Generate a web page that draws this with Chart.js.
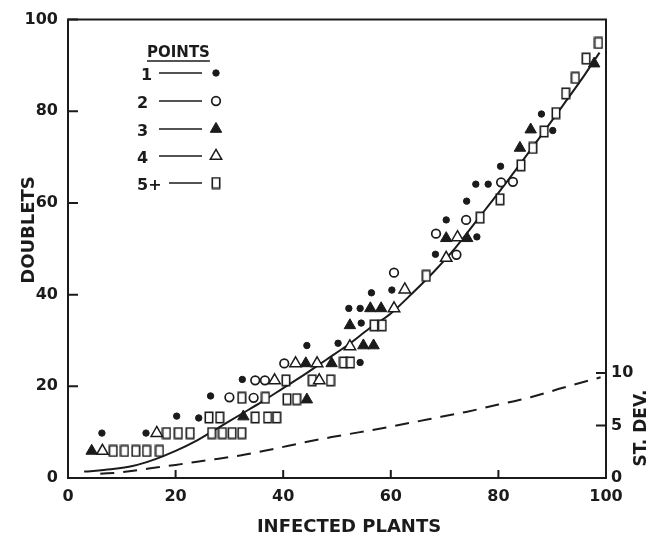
<!DOCTYPE html>
<html>
<head>
<meta charset="utf-8">
<script src="https://cdn.jsdelivr.net/npm/chart.js@4/dist/chart.umd.min.js"></script>
<style>
  html, body { margin: 0; padding: 0; background: #fff; }
</style>
</head>
<body>
<canvas id="graphCanvas" width="665" height="543"></canvas>
<script>
// points (x = infected plants, y = doublets)
var pts1X = [6.3, 14.5, 20.2, 24.3, 26.5, 32.4, 44.4, 50.2, 52.2, 54.3, 54.5, 54.3, 56.4, 60.2, 68.3, 70.3, 74.1, 76.0, 75.8, 78.1, 80.4, 88.0, 90.1];
var pts1Y = [9.8, 9.8, 13.5, 13.1, 17.9, 21.5, 28.9, 29.4, 37.0, 37.0, 33.8, 25.2, 40.4, 41.0, 48.8, 56.3, 60.4, 52.6, 64.1, 64.1, 68.0, 79.4, 75.8];

var pts2X = [30.0, 34.5, 34.8, 36.6, 40.2, 60.6, 72.2, 68.4, 74.0, 80.5, 82.7];
var pts2Y = [17.6, 17.5, 21.3, 21.3, 25.0, 44.8, 48.7, 53.3, 56.3, 64.5, 64.6];

var pts3X = [4.4, 32.6, 44.4, 44.2, 49.0, 52.4, 54.9, 56.8, 56.2, 58.2, 70.3, 74.2, 84.0, 86.0, 97.8];
var pts3Y = [5.9, 13.4, 17.1, 25.0, 25.0, 33.3, 28.9, 28.9, 37.0, 37.0, 52.3, 52.3, 72.0, 76.0, 90.4];

var pts4X = [6.4, 16.5, 38.4, 46.7, 42.3, 46.3, 52.4, 60.6, 62.6, 70.3, 72.4];
var pts4Y = [5.9, 9.8, 21.3, 21.3, 25.0, 25.0, 28.7, 37.0, 41.1, 48.0, 52.5];

var pts5X = [8.4, 10.5, 12.6, 14.6, 17.0, 18.3, 20.5, 22.7, 26.7, 28.7, 30.5, 32.3, 26.2, 28.2, 34.8, 37.1, 38.8,
             32.3, 36.7, 40.7, 42.5, 40.5, 45.4, 48.8, 51.2, 52.5, 56.9, 58.4, 66.6, 76.6, 80.3, 84.2, 86.4, 88.5,
             90.7, 92.5, 94.3, 96.3, 98.6];
var pts5Y = [5.9, 5.9, 5.9, 5.9, 5.9, 9.8, 9.8, 9.8, 9.8, 9.8, 9.8, 9.8, 13.2, 13.2, 13.2, 13.2, 13.2,
             17.5, 17.5, 17.2, 17.2, 21.3, 21.3, 21.3, 25.2, 25.2, 33.3, 33.3, 44.1, 56.8, 60.8, 68.2, 72.0, 75.6,
             79.6, 83.9, 87.3, 91.5, 94.9];

// fitted curve (left axis)
var fitX = [3, 8, 12, 16, 20, 24, 28, 32, 36, 40, 44, 48, 52, 56, 60, 64, 68, 72, 76, 80, 84, 88, 92, 96, 98.8];
var fitY = [1.4, 1.9, 2.6, 4.0, 5.9, 8.2, 11.0, 13.8, 16.6, 19.6, 22.6, 25.8, 29.0, 32.6, 35.9, 40.3, 45.0, 50.2, 56.2, 62.2, 68.4, 74.8, 81.3, 87.9, 92.8];

// standard deviation (right axis)
var sdX = [6, 10, 15, 20, 26, 32, 38, 44, 49, 54, 60, 67, 74, 80, 86, 92, 99];
var sdY = [0.4, 0.55, 0.9, 1.25, 1.7, 2.15, 2.75, 3.4, 3.9, 4.35, 4.9, 5.6, 6.3, 7.0, 7.7, 8.6, 9.6];

var xTicks = [0, 20, 40, 60, 80, 100];
var yTicks = [0, 20, 40, 60, 80, 100];
var sdTicks = [0, 5, 10];
var legendLabels = ['1', '2', '3', '4', '5+'];

var ink = '#1b1b1b';
var fontFamily = "'DejaVu Sans', sans-serif";

function toXY(xs, ys) {
  return xs.map(function(x, i) { return { x: x, y: ys[i] }; });
}

// narrow open rectangle used for the "5+" points
var rectMark = document.createElement('canvas');
rectMark.width = 10;
rectMark.height = 13;
(function() {
  var c = rectMark.getContext('2d');
  c.fillStyle = '#fff';
  c.fillRect(1, 1, 8, 11);
  c.strokeStyle = ink;
  c.lineWidth = 1.6;
  c.strokeRect(1.3, 1.3, 7.4, 10.4);
})();

var marks = [
  { pointStyle: 'circle', radius: 3.2, fill: ink, width: 1 },
  { pointStyle: 'circle', radius: 4.3, fill: '#fff', width: 1.7 },
  { pointStyle: 'triangle', radius: 6.6, fill: ink, width: 1 },
  { pointStyle: 'triangle', radius: 6.6, fill: '#fff', width: 1.5 },
  { pointStyle: rectMark, radius: 6, fill: '#fff', width: 1 }
];

var series = [toXY(pts1X, pts1Y), toXY(pts2X, pts2Y), toXY(pts3X, pts3Y), toXY(pts4X, pts4Y), toXY(pts5X, pts5Y)];

var datasets = series.map(function(d, i) {
  return {
    label: legendLabels[i],
    data: d,
    pointStyle: marks[i].pointStyle,
    pointRadius: marks[i].radius,
    backgroundColor: marks[i].fill,
    borderColor: ink,
    borderWidth: marks[i].width,
    order: 0
  };
});

datasets.push({
  label: 'fit',
  data: toXY(fitX, fitY),
  showLine: true,
  pointRadius: 0,
  borderColor: ink,
  borderWidth: 2,
  cubicInterpolationMode: 'monotone',
  order: 1
});

datasets.push({
  label: 'st dev',
  data: toXY(sdX, sdY),
  yAxisID: 'y2',
  showLine: true,
  pointRadius: 0,
  borderColor: ink,
  borderWidth: 2,
  borderDash: [14, 9],
  cubicInterpolationMode: 'monotone',
  order: 1
});

// box top, inward tick marks, axis titles and the "POINTS" key
var decorPlugin = {
  id: 'decor',
  afterDraw: function(chart) {
    var ctx = chart.ctx, a = chart.chartArea;
    var xs = chart.scales.x, ys = chart.scales.y, ys2 = chart.scales.y2;
    ctx.save();
    ctx.strokeStyle = ink;
    ctx.fillStyle = ink;
    ctx.lineWidth = 2;

    ctx.beginPath();
    ctx.moveTo(a.left - 1, a.top);
    ctx.lineTo(a.right + 1, a.top);
    ctx.stroke();

    ctx.beginPath();
    xTicks.forEach(function(v) {
      var px = xs.getPixelForValue(v);
      ctx.moveTo(px, a.bottom);
      ctx.lineTo(px, a.bottom - 8);
    });
    yTicks.forEach(function(v) {
      var py = ys.getPixelForValue(v);
      ctx.moveTo(a.left, py);
      ctx.lineTo(a.left + 10, py);
    });
    sdTicks.forEach(function(v) {
      var py = ys2.getPixelForValue(v);
      ctx.moveTo(a.right, py);
      ctx.lineTo(a.right - 10, py);
    });
    ctx.stroke();

    // axis titles
    ctx.font = 'bold 18px ' + fontFamily;
    ctx.textAlign = 'center';
    ctx.textBaseline = 'middle';
    ctx.fillText('INFECTED PLANTS', 349, 527);
    ctx.save();
    ctx.translate(29, 230);
    ctx.rotate(-Math.PI / 2);
    ctx.fillText('DOUBLETS', 0, 0);
    ctx.restore();
    ctx.save();
    ctx.translate(642, 428);
    ctx.rotate(-Math.PI / 2);
    ctx.font = 'bold 17px ' + fontFamily;
    ctx.fillText('ST. DEV.', 0, 0);
    ctx.restore();

    // key
    ctx.font = 'bold 15px ' + fontFamily;
    ctx.textAlign = 'left';
    ctx.textBaseline = 'alphabetic';
    ctx.fillText('POINTS', 147, 57);
    var w = ctx.measureText('POINTS').width;
    ctx.lineWidth = 1.5;
    ctx.beginPath();
    ctx.moveTo(147, 61);
    ctx.lineTo(147 + w, 61);
    ctx.stroke();

    var rowY = [73, 101, 129, 156, 183];
    ctx.font = 'bold 16px ' + fontFamily;
    ctx.textBaseline = 'middle';
    legendLabels.forEach(function(lab, i) {
      ctx.fillStyle = ink;
      ctx.fillText(lab, lab === '1' ? 141 : 137, rowY[i] + 3);
      ctx.lineWidth = 1.6;
      ctx.beginPath();
      ctx.moveTo(i === 4 ? 169 : 159, rowY[i]);
      ctx.lineTo(202, rowY[i]);
      ctx.stroke();
      ctx.fillStyle = marks[i].fill;
      ctx.lineWidth = marks[i].width;
      Chart.helpers.drawPoint(ctx, {
        pointStyle: marks[i].pointStyle,
        radius: marks[i].radius,
        rotation: 0,
        borderWidth: marks[i].width
      }, 216, rowY[i]);
    });
    ctx.restore();
  }
};

Chart.defaults.font.family = fontFamily;
Chart.defaults.font.weight = 'bold';
Chart.defaults.color = ink;

new Chart(document.getElementById('graphCanvas').getContext('2d'), {
  type: 'scatter',
  data: { datasets: datasets },
  plugins: [decorPlugin],
  options: {
    responsive: false,
    animation: false,
    events: [],
    layout: { padding: { top: 15, left: 0, right: 0, bottom: 0 } },
    plugins: { legend: { display: false }, tooltip: { enabled: false } },
    scales: {
      x: {
        type: 'linear',
        min: 0,
        max: 100,
        afterFit: function(s) { s.height = 65; },
        afterBuildTicks: function(s) { s.ticks = xTicks.map(function(v) { return { value: v }; }); },
        grid: { display: false, drawTicks: false },
        border: { color: ink, width: 2 },
        ticks: { padding: 9, font: { size: 16, weight: 'bold' }, color: ink }
      },
      y: {
        type: 'linear',
        min: 0,
        max: 100,
        afterFit: function(s) { s.width = 68; },
        afterBuildTicks: function(s) { s.ticks = yTicks.map(function(v) { return { value: v }; }); },
        grid: { display: false, drawTicks: false },
        border: { color: ink, width: 2 },
        ticks: { padding: 10, font: { size: 16, weight: 'bold' }, color: ink }
      },
      y2: {
        type: 'linear',
        position: 'right',
        min: 0,
        max: 43.7,
        afterFit: function(s) { s.width = 59; },
        afterBuildTicks: function(s) { s.ticks = sdTicks.map(function(v) { return { value: v }; }); },
        grid: { display: false, drawTicks: false },
        border: { color: ink, width: 2 },
        ticks: { padding: 5, font: { size: 16, weight: 'bold' }, color: ink }
      }
    }
  }
});
</script>
</body>
</html>
